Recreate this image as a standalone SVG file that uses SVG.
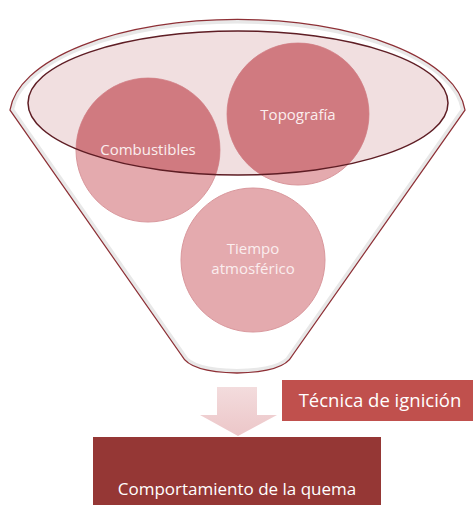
<svg xmlns="http://www.w3.org/2000/svg" width="473" height="505" viewBox="0 0 473 505">
<style>
.ctext{font-family:"Open Sans","Liberation Sans",sans-serif;font-size:15px;fill:#fbeeee;text-anchor:middle}
.btext{font-family:"Open Sans","Liberation Sans",sans-serif;fill:#ffffff;text-anchor:middle}
.circ{fill:#e4aaae;stroke:#d9979c;stroke-width:1}
.circd{fill:#d07a80}
</style>
<defs>
<linearGradient id="arrowG" x1="0" y1="0" x2="0" y2="1">
<stop offset="0" stop-color="#f3dcdd"/>
<stop offset="1" stop-color="#ecc6c8"/>
</linearGradient>
<clipPath id="innerClip"><ellipse cx="238" cy="103" rx="210" ry="72"/></clipPath>
<clipPath id="funnelClip"><path d="M10 110 A228 97 0 0 1 465 110 L292 356 Q284 372 237 373 Q190 372 182 356 Z"/></clipPath>
</defs>
<rect width="473" height="505" fill="#ffffff"/>
<g id="funnel">
<path d="M10 110 A228 97 0 0 1 465 110 L292 356 Q284 372 237 373 Q190 372 182 356 Z" fill="#ffffff"/>
<path d="M10 110 A228 97 0 0 1 465 110 L292 356 Q284 372 237 373 Q190 372 182 356 Z" fill="none" stroke="#dedede" stroke-width="8" clip-path="url(#funnelClip)" opacity="0.7"/>
<path d="M10 110 A228 97 0 0 1 465 110 L292 356 Q284 372 237 373 Q190 372 182 356 Z" fill="none" stroke="#8e3036" stroke-width="1.3"/>
<ellipse cx="238" cy="103" rx="210" ry="72" fill="#f1dfe0"/>
</g>
<g id="node-combustibles">
<circle class="circ" cx="148" cy="150" r="72"/>
<circle class="circd" cx="148" cy="150" r="72" clip-path="url(#innerClip)"/>
</g>
<g id="node-topografia">
<circle class="circ" cx="298" cy="114" r="71"/>
<circle class="circd" cx="298" cy="114" r="71" clip-path="url(#innerClip)"/>
</g>
<g id="node-tiempo">
<circle class="circ" cx="253" cy="260" r="72" fill="#e6b2b5"/>
</g>
<ellipse cx="238" cy="103" rx="210" ry="72" fill="none" stroke="#5e1d24" stroke-width="1.5"/>
<g id="labels">
<text class="ctext" x="148" y="155">Combustibles</text>
<text class="ctext" x="298" y="120">Topografía</text>
<text class="ctext" x="253" y="254" fill="#f9e9ea">Tiempo</text>
<text class="ctext" x="253" y="274" fill="#f9e9ea">atmosférico</text>
</g>
<g id="connectors">
<path d="M217 387 L257 387 L257 415 L277 415 L238 436 L200 415 L217 415 Z" fill="url(#arrowG)"/>
</g>
<g id="node-tecnica">
<rect x="282" y="380" width="191" height="41" fill="#c0504d"/>
<text class="btext" x="380" y="407" font-size="18.5">Técnica de ignición</text>
</g>
<g id="node-comportamiento">
<rect x="93" y="437" width="288" height="68" fill="#953735"/>
<text class="btext" x="237" y="495" font-size="17" fill="#f7ecec">Comportamiento de la quema</text>
</g>
</svg>
